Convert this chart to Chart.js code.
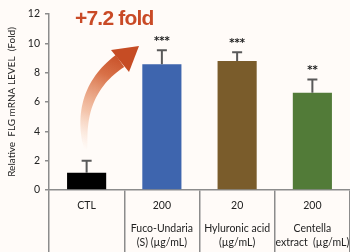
<!DOCTYPE html>
<html>
<head>
<meta charset="utf-8">
<script src="https://cdn.jsdelivr.net/npm/chart.js@4"></script>
<style>
  html, body { margin: 0; padding: 0; background: #fffbf8; }
  #wrap { width: 350px; height: 252px; position: relative; }
</style>
</head>
<body>
<div id="wrap"><canvas id="chart-area"></canvas></div>
<script>
// data
const doseLabels = ["CTL", "200", "20", "200"];
const nameLabels = [[], ["Fuco-Undaria", "(S) (µg/mL)"], ["Hyluronic acid", "(µg/mL)"], ["Centella", "extract  (µg/mL)"]];
const flgValues = [1.17, 8.57, 8.8, 6.63];
const flgErrors = [0.82, 0.96, 0.6, 0.91];
const sigMarks = ["", "***", "***", "**"];
const barColors = ["#000000", "#3e65ae", "#7a5c2b", "#527b38"];
const yTicks = [0, 2, 4, 6, 8, 10, 12];
const foldText = "+7.2 fold";

const axisGray = "#8c8c8c";
const labelFont = "Lato, 'Open Sans', sans-serif";

// error bars, stars, the arrow and the category labels
const extrasPlugin = {
  id: "extras",
  afterDatasetsDraw(chart) {
    const ctx = chart.ctx;
    const x = chart.scales.x;
    const y = chart.scales.y;
    const meta = chart.getDatasetMeta(0);

    ctx.save();
    meta.data.forEach((bar, i) => {
      const top = y.getPixelForValue(flgValues[i]);
      const errTop = y.getPixelForValue(flgValues[i] + flgErrors[i]);
      ctx.strokeStyle = "#595959";
      ctx.lineWidth = 2;
      ctx.beginPath();
      ctx.moveTo(bar.x, top);
      ctx.lineTo(bar.x, errTop);
      ctx.moveTo(bar.x - 5, errTop);
      ctx.lineTo(bar.x + 5, errTop);
      ctx.stroke();

      if (sigMarks[i]) {
        ctx.fillStyle = "#222";
        ctx.font = "bold 10px 'DejaVu Sans', sans-serif";
        ctx.textAlign = "center";
        ctx.textBaseline = "middle";
        ctx.fillText(sigMarks[i], bar.x, errTop - 9);
      }
    });

    // category labels under the axis
    ctx.fillStyle = "#222";
    ctx.font = "10.5px " + labelFont;
    ctx.textAlign = "center";
    ctx.textBaseline = "middle";
    doseLabels.forEach((lab, i) => {
      const cx = x.getPixelForValue(i);
      ctx.fillText(lab, cx, 206);
      nameLabels[i].forEach((ln, k) => {
        ctx.fillText(ln, cx, 229 + k * 14);
      });
    });

    // curved arrow
    const p0 = [86, 150], c = [76, 92], p2 = [120, 61];
    const grad = ctx.createLinearGradient(86, 150, 125, 55);
    grad.addColorStop(0, "rgba(245,200,170,0)");
    grad.addColorStop(0.35, "rgba(236,160,120,0.6)");
    grad.addColorStop(0.75, "rgba(214,105,62,0.95)");
    grad.addColorStop(1, "#c64c24");
    const n = 30;
    const left = [], right = [];
    for (let k = 0; k <= n; k++) {
      const t = k / n;
      const px = (1 - t) * (1 - t) * p0[0] + 2 * (1 - t) * t * c[0] + t * t * p2[0];
      const py = (1 - t) * (1 - t) * p0[1] + 2 * (1 - t) * t * c[1] + t * t * p2[1];
      let dx = 2 * (1 - t) * (c[0] - p0[0]) + 2 * t * (p2[0] - c[0]);
      let dy = 2 * (1 - t) * (c[1] - p0[1]) + 2 * t * (p2[1] - c[1]);
      const len = Math.hypot(dx, dy);
      dx /= len; dy /= len;
      const w = 0.8 + 6.5 * Math.sqrt(t);
      left.push([px - dy * w, py + dx * w]);
      right.push([px + dy * w, py - dx * w]);
    }
    ctx.fillStyle = grad;
    ctx.beginPath();
    ctx.moveTo(left[0][0], left[0][1]);
    left.forEach(p => ctx.lineTo(p[0], p[1]));
    for (let k = right.length - 1; k >= 0; k--) ctx.lineTo(right[k][0], right[k][1]);
    ctx.closePath();
    ctx.fill();
    ctx.fillStyle = "#c64c24";
    ctx.beginPath();
    ctx.moveTo(111, 50);
    ctx.lineTo(139, 46);
    ctx.lineTo(129, 72);
    ctx.closePath();
    ctx.fill();

    ctx.fillStyle = "#c94a26";
    ctx.font = "bold 21px 'Liberation Sans', Arial, sans-serif";
    ctx.textAlign = "left";
    ctx.textBaseline = "alphabetic";
    ctx.letterSpacing = "-0.8px";
    ctx.fillText(foldText, 75, 25);
    ctx.restore();
  }
};

new Chart("chart-area", {
  type: "bar",
  data: {
    labels: doseLabels,
    datasets: [{
      data: flgValues,
      backgroundColor: barColors,
      barPercentage: 1,
      categoryPercentage: 0.52,
    }],
  },
  options: {
    responsive: true,
    maintainAspectRatio: false,
    animation: false,
    layout: { padding: { top: 14, right: 0, bottom: 0, left: 0 } },
    plugins: { legend: { display: false }, tooltip: { enabled: false } },
    scales: {
      x: {
        ticks: { display: false },
        grid: { offset: true, drawOnChartArea: false, tickLength: 62, color: axisGray, lineWidth: 1.5 },
        border: { color: axisGray, width: 1.5 },
      },
      y: {
        min: 0,
        max: 12,
        afterFit: (scale) => { scale.width = 49; },
        afterBuildTicks: (scale) => { scale.ticks = yTicks.map(v => ({ value: v })); },
        ticks: { color: "#222", padding: 5, font: { size: 10.5, family: labelFont } },
        grid: { drawOnChartArea: false, tickLength: 4, color: axisGray, lineWidth: 1.5 },
        border: { color: axisGray, width: 1.5 },
        title: {
          display: true,
          text: "Relative  FLG mRNA LEVEL  (Fold)",
          color: "#222",
          padding: { top: 6, bottom: 4 },
          font: { size: 10, family: labelFont },
        },
      },
    },
  },
  plugins: [extrasPlugin],
});
</script>
</body>
</html>
